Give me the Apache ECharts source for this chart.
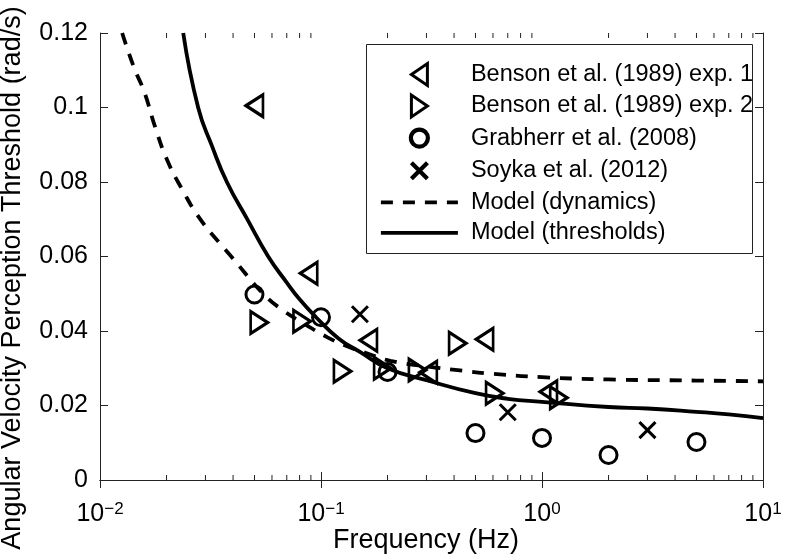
<!DOCTYPE html>
<html><head><meta charset="utf-8">
<script src="https://cdn.jsdelivr.net/npm/echarts@6/dist/echarts.min.js"></script>
<style>html,body{margin:0;padding:0;background:#fff}#c{width:786px;height:560px}</style>
</head><body><div id="c"></div>
<script>
// ---- data (frequency Hz, threshold rad/s) ----
const seriesNames = ['Benson et al. (1989) exp. 1','Benson et al. (1989) exp. 2','Grabherr et al. (2008)','Soyka et al. (2012)','Model (dynamics)','Model (thresholds)'];
const bensonExp1 = [[0.05,0.1005],[0.088,0.0555],[0.164,0.0375],[0.306,0.0289],[0.55,0.0378],[1.07,0.0237]];
const bensonExp2 = [[0.0525,0.0423],[0.082,0.0426],[0.125,0.0292],[0.19,0.0300],[0.273,0.0295],[0.415,0.0367],[0.61,0.0233],[1.19,0.0221]];
const grabherr = [[0.05,0.0498],[0.1,0.0437],[0.2,0.0290],[0.5,0.0126],[1.0,0.0113],[2.0,0.0067],[5.0,0.0102]];
const soyka = [[0.15,0.0445],[0.7,0.0182],[3.0,0.0134]];
const modelDynamics = [[0.0126,0.12],[0.0142,0.111],[0.0159,0.104],[0.0178,0.0946],[0.0202,0.0857],[0.0237,0.0777],[0.0282,0.0703],[0.035,0.0634],[0.0395,0.0598],[0.0548,0.050],[0.0675,0.0455],[0.0832,0.0421],[0.107,0.0383],[0.133,0.0358],[0.167,0.0337],[0.206,0.0320],[0.3,0.0305],[0.415,0.0295],[0.6,0.0285],[1,0.0276],[2,0.0270],[5,0.0267],[10,0.0265]];
const modelThresholds = [[0.0238,0.12],[0.0278,0.1],[0.0321,0.0897],[0.0375,0.08],[0.0463,0.0701],[0.0577,0.06],[0.07,0.053],[0.08,0.0485],[0.095,0.0437],[0.12,0.038],[0.15,0.0344],[0.2,0.0300],[0.3,0.0268],[0.5,0.0233],[0.7,0.0218],[1,0.0210],[2,0.0196],[3,0.0192],[5,0.0183],[7,0.0176],[10,0.0166]];
const minorTickFreqs = [0.02,0.03,0.04,0.05,0.06,0.07,0.08,0.09,0.2,0.3,0.4,0.5,0.6,0.7,0.8,0.9,2,3,4,5,6,7,8,9];
const xMin = 0.01, xMax = 10, yMin = 0, yMax = 0.12, yStep = 0.02;

const FONT = 'Liberation Sans, Arial, Helvetica, sans-serif';
const TRI_LEFT = 'path://M0,11L16,0L16,22Z';
const TRI_RIGHT = 'path://M16,11L0,0L0,22Z';
// circle and cross drawn inside a 22x22 box (empty margin) so plot and legend sizes agree
const CIRCLE = 'path://M0,0L0,0M2.5,11A8.5,8.5,0,1,1,19.5,11A8.5,8.5,0,1,1,2.5,11ZM22,22L22,22';
const CROSS = 'path://M0,0L0,0M3,3L19,19M19,3L3,19M22,22L22,22';

function supLabel(v){
  const e = Math.round(Math.log10(v));
  return '{b|10}{s|' + (e < 0 ? '\u2212' + (-e) : e) + '}';
}
const markerStyle = {color:'transparent', borderColor:'#000', borderWidth:3, opacity:1};
const thickLegend = {borderWidth:4.2, borderColor:'#000', color:'transparent', opacity:1};
const noSymbol = {color:'transparent', borderColor:'transparent', borderWidth:0, opacity:0};

const chart = echarts.init(document.getElementById('c'), null, {renderer:'canvas'});
chart.setOption({
  backgroundColor:'#fff',
  animation:false,
  textStyle:{fontFamily:FONT},
  grid:{left:100, right:23, top:33, bottom:80},
  xAxis:[{
    type:'log', logBase:10, min:xMin, max:xMax, position:'bottom',
    axisLine:{lineStyle:{color:'#222', width:1}},
    axisTick:{inside:true, length:8, lineStyle:{color:'#222'}},
    splitLine:{show:false},
    axisLabel:{margin:21, formatter:supLabel, rich:{
      b:{fontSize:25, color:'#000', fontFamily:FONT},
      s:{fontSize:17, color:'#000', fontFamily:FONT, verticalAlign:'top', padding:[0,0,10,0]}
    }}
  },{
    type:'log', logBase:10, min:xMin, max:xMax, position:'top',
    axisLine:{lineStyle:{color:'#222', width:1}},
    axisTick:{inside:true, length:8, lineStyle:{color:'#222'}},
    axisLabel:{show:false}, splitLine:{show:false}
  }],
  yAxis:[{
    type:'value', min:yMin, max:yMax, interval:yStep, position:'left',
    axisLine:{show:true, lineStyle:{color:'#222', width:1}},
    axisTick:{show:true, inside:true, length:8, lineStyle:{color:'#222'}},
    splitLine:{show:false},
    axisLabel:{fontSize:25, color:'#000', margin:12, fontFamily:FONT}
  },{
    type:'value', min:yMin, max:yMax, interval:yStep, position:'right',
    axisLine:{show:true, lineStyle:{color:'#222', width:1}},
    axisTick:{show:true, inside:true, length:8, lineStyle:{color:'#222'}},
    axisLabel:{show:false}, splitLine:{show:false}
  }],
  legend:{
    orient:'vertical', left:379, top:62, z:20, padding:0,
    data:[
      {name:seriesNames[0]},{name:seriesNames[1]},
      {name:seriesNames[2], itemStyle:thickLegend},{name:seriesNames[3], itemStyle:thickLegend},
      {name:seriesNames[4], itemStyle:noSymbol},{name:seriesNames[5], itemStyle:noSymbol}
    ],
    itemWidth:77, itemHeight:22, itemGap:6.5,
    itemStyle:{borderWidth:3, opacity:1},
    lineStyle:{width:3.8},
    textStyle:{fontSize:23.5, color:'#000', fontFamily:FONT, lineHeight:24, padding:[0,0,0,8]},
    selectedMode:false
  },
  graphic:[
    {type:'rect', left:366, top:44, z:10, shape:{width:386, height:209}, style:{fill:'#fff', stroke:'#222', lineWidth:1}},
    {type:'text', x:13, y:278, rotation:Math.PI/2, z:10, style:{text:'Angular Velocity Perception Threshold (rad/s)', font:'27px ' + FONT, fill:'#000', textAlign:'center', textVerticalAlign:'middle'}},
    {type:'text', x:426, y:541, z:10, style:{text:'Frequency (Hz)', font:'27px ' + FONT, fill:'#000', textAlign:'center', textVerticalAlign:'middle'}}
  ],
  series:[
    {name:'Model (dynamics)', type:'line', data:modelDynamics, smooth:0.5, symbol:'none', showSymbol:false,
     lineStyle:{color:'#000', width:3.8, type:[12,10]}, itemStyle:{color:'#000'}},
    {name:'Model (thresholds)', type:'line', data:modelThresholds, smooth:0.5, symbol:'none', showSymbol:false,
     lineStyle:{color:'#000', width:3.8}, itemStyle:{color:'#000'}},
    {name:seriesNames[0], type:'scatter', data:bensonExp1, symbol:TRI_LEFT, symbolSize:[17,22], itemStyle:markerStyle, z:3},
    {name:seriesNames[1], type:'scatter', data:bensonExp2, symbol:TRI_RIGHT, symbolSize:[17,22], itemStyle:markerStyle, z:3},
    {name:seriesNames[2], type:'scatter', data:grabherr, symbol:CIRCLE, symbolSize:22, itemStyle:markerStyle, z:3},
    {name:seriesNames[3], type:'scatter', data:soyka, symbol:CROSS, symbolSize:22, itemStyle:markerStyle, z:3},
    {name:'minorBottom', type:'scatter', silent:true, clip:false, data:minorTickFreqs.map(f=>[f,yMin]),
     symbol:'rect', symbolSize:[1,5], symbolOffset:[0,-2.5], itemStyle:{color:'#222', opacity:1}, z:1},
    {name:'minorTop', type:'scatter', silent:true, clip:false, data:minorTickFreqs.map(f=>[f,yMax]),
     symbol:'rect', symbolSize:[1,5], symbolOffset:[0,2.5], itemStyle:{color:'#222', opacity:1}, z:1}
  ]
});
</script></body></html>
